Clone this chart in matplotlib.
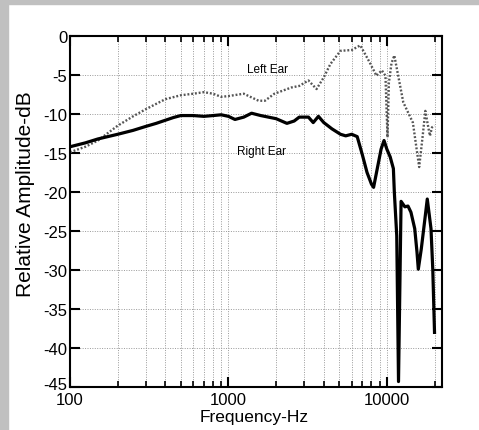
import matplotlib
matplotlib.use('Agg')
import matplotlib.pyplot as plt
from matplotlib.patches import Rectangle
from matplotlib.transforms import ScaledTranslation
from matplotlib.ticker import FixedLocator, FuncFormatter, NullFormatter, LogLocator

plt.rcParams['font.family'] = ['Liberation Sans', 'DejaVu Sans']

# Right ear response (solid)
freq_right = [100, 125, 150, 200, 250, 300, 350, 400, 450, 500, 600, 700, 800,
              900, 1000, 1100, 1250, 1400, 1600, 2000, 2340, 2600, 2800, 3200,
              3430, 3700, 4000, 4500, 5100, 5500, 6000, 6500, 7000, 7500,
              8000, 8250, 8800, 9200, 9600, 10000, 10500, 11000, 11150, 11550,
              11850, 12300, 13000, 13600, 14200, 15000, 15500, 15800, 16500,
              17500, 18000, 19000, 19500, 20000]
amp_right = [-14.2, -13.7, -13.2, -12.6, -12.1, -11.6, -11.2, -10.8, -10.45,
             -10.2, -10.2, -10.3, -10.2, -10.1, -10.3, -10.7, -10.4, -9.9,
             -10.2, -10.6, -11.2, -10.9, -10.4, -10.4, -11.1, -10.3, -11.1,
             -11.9, -12.6, -12.8, -12.6, -12.9, -15.2, -17.5, -19.0, -19.4,
             -16.5, -14.5, -13.4, -14.5, -15.5, -17.0, -20.0, -25.6, -44.3,
             -21.2, -21.9, -21.8, -22.6, -24.7, -27.7, -29.9, -27.3, -23.0,
             -20.9, -24.7, -29.9, -38.0]

# Left ear response (dotted)
freq_left = [100, 125, 150, 200, 250, 300, 350, 400, 500, 600, 700, 800, 900,
             1000, 1250, 1550, 1700, 1950, 2500, 2800, 3200, 3600, 4000, 4400,
             5100, 6000, 6800, 7800, 8600, 9300, 9800, 10100, 10300, 10700,
             11150, 12700, 14600, 16000, 16800, 17500, 18000, 18700, 19300,
             20000]
amp_left = [-14.9, -14.2, -13.4, -11.5, -10.3, -9.4, -8.7, -8.1, -7.6, -7.4,
            -7.2, -7.4, -7.8, -7.7, -7.4, -8.3, -8.3, -7.4, -6.6, -6.4, -5.7,
            -6.8, -5.3, -3.6, -1.9, -1.8, -1.2, -3.4, -5.1, -4.4, -5.1, -13.0,
            -6.0, -3.5, -2.5, -8.5, -11.1, -16.8, -13.0, -9.6, -11.0, -12.8,
            -11.7, -11.5]

y_ticks = [0, -5, -10, -15, -20, -25, -30, -35, -40, -45]
x_ticks = [100, 1000, 10000]

fig = plt.figure(figsize=(4.79, 4.31), dpi=100)
fig.patches.append(Rectangle((0, 0), 8 / 479, 1, transform=fig.transFigure,
                             color='#c0c0c0', zorder=0))
fig.patches.append(Rectangle((0, 1 - 5 / 431), 1, 5 / 431,
                             transform=fig.transFigure, color='#c0c0c0',
                             zorder=0))

ax = fig.add_axes([70 / 479, 1 - 388 / 431, 371.7 / 479, 351 / 431])

ax.plot(freq_left, amp_left, color='#555555', linewidth=1.7,
        linestyle=(0, (0.8, 0.8)))
ax.plot(freq_right, amp_right, color='black', linewidth=2.3)

ax.set_xscale('log')
ax.set_xlim(100, 22200)
ax.set_ylim(-45, 0)
ax.xaxis.set_major_locator(FixedLocator(x_ticks))
ax.xaxis.set_major_formatter(FuncFormatter(lambda v, _: f"{int(v)}"))
ax.xaxis.set_minor_locator(LogLocator(base=10, subs=range(2, 10)))
ax.xaxis.set_minor_formatter(NullFormatter())
ax.set_yticks(y_ticks)
ax.set_yticklabels([str(v) for v in y_ticks])

ax.grid(True, which='both', axis='x', color='#999999', linestyle=(0, (1, 1.5)),
        linewidth=0.7)
ax.grid(True, which='major', axis='y', color='#999999',
        linestyle=(0, (1, 1.5)), linewidth=0.7)

ax.tick_params(which='major', direction='in', length=7.5, width=1.5,
               top=True, right=True, labelsize=12)
ax.tick_params(axis='y', pad=2)
ax.tick_params(which='minor', direction='in', length=4.5, width=1.2,
               top=True, right=False)
for side in ax.spines.values():
    side.set_linewidth(1.5)

# lift the bottom y label a little so it sits above the "100"
fig.canvas.draw()
bottom_lab = ax.get_yticklabels()[-1]
bottom_lab.set_transform(bottom_lab.get_transform()
                         + ScaledTranslation(0, 4 / 100, fig.dpi_scale_trans))

ax.set_xlabel('Frequency-Hz', fontsize=12.5)
ax.xaxis.set_label_coords(0.495, -0.063)
ax.set_ylabel('Relative Amplitude-dB', fontsize=15)
ax.yaxis.set_label_coords(-0.093, 0.553)

ax.text(1765, -4.2, 'Left Ear', fontsize=8.5, ha='center', va='center')
ax.text(1618, -14.7, 'Right Ear', fontsize=8.5, ha='center', va='center')

fig.savefig('out.png', dpi=100)
